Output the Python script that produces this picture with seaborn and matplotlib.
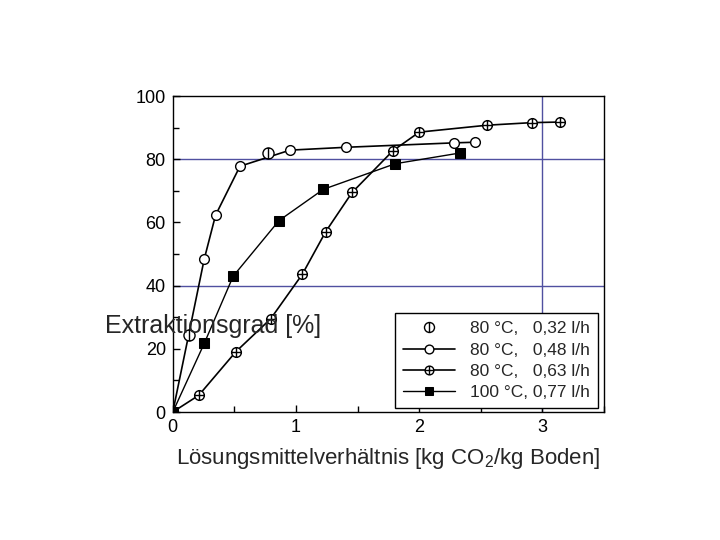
import numpy as np
import pandas as pd
import matplotlib
matplotlib.use("Agg")
import matplotlib.pyplot as plt
from matplotlib.path import Path
import seaborn as sns

# data
x_032 = [0.13, 0.77]
y_032 = [24.5, 82.0]

x_048 = [0.0, 0.255, 0.347, 0.545, 0.951, 1.404, 2.279, 2.45]
y_048 = [0.0, 48.4, 62.3, 77.8, 82.9, 83.8, 85.2, 85.4]

x_063 = [0.0, 0.211, 0.512, 0.794, 1.051, 1.241, 1.455, 1.786, 2.0, 2.553, 2.911, 3.146]
y_063 = [0.0, 5.3, 19.1, 29.5, 43.6, 57.1, 69.5, 82.7, 88.6, 90.8, 91.6, 91.8]

x_077 = [0.0, 0.255, 0.49, 0.862, 1.222, 1.805, 2.331]
y_077 = [0.0, 21.7, 43.0, 60.6, 70.5, 78.6, 82.0]

labels = ["80 °C,   0,32 l/h", "80 °C,   0,48 l/h", "80 °C,   0,63 l/h", "100 °C, 0,77 l/h"]

sns.set_theme(style="ticks")
plt.rcParams["font.family"] = ["Liberation Sans", "DejaVu Sans"]
plt.rcParams["mathtext.fontset"] = "custom"
plt.rcParams["mathtext.rm"] = "Liberation Sans"

# markers: circle with vertical bar, circle with cross
circ = Path.unit_circle()
vbar = Path([(0, -1), (0, 1)], [Path.MOVETO, Path.LINETO])
hbar = Path([(-1, 0), (1, 0)], [Path.MOVETO, Path.LINETO])
m_bar = Path.make_compound_path(circ, vbar)
m_cross = Path.make_compound_path(circ, vbar, hbar)

fig = plt.figure(figsize=(7.2, 5.4), dpi=100)
ax = fig.add_axes([0.240, 0.237, 0.599, 0.585])

for v in [40, 80]:
    ax.axhline(v, color="#5050a0", lw=1.0, zorder=0)
ax.axvline(3, color="#5050a0", lw=1.0, zorder=0)

df032 = pd.DataFrame({"x": x_032, "y": y_032})
df048 = pd.DataFrame({"x": x_048, "y": y_048})
df063 = pd.DataFrame({"x": x_063, "y": y_063})
df077 = pd.DataFrame({"x": x_077, "y": y_077})

sns.lineplot(data=df032, x="x", y="y", ax=ax, sort=False, estimator=None,
             color="black", linestyle="none", marker=m_bar, markersize=8,
             markerfacecolor="white", markeredgecolor="black", markeredgewidth=1.0,
             label=labels[0], zorder=5)
sns.lineplot(data=df048, x="x", y="y", ax=ax, sort=False, estimator=None,
             color="black", lw=1.2, marker="o", markersize=7,
             markerfacecolor="white", markeredgecolor="black", markeredgewidth=1.0,
             label=labels[1], zorder=4)
sns.lineplot(data=df063, x="x", y="y", ax=ax, sort=False, estimator=None,
             color="black", lw=1.2, marker=m_cross, markersize=7,
             markerfacecolor="white", markeredgecolor="black", markeredgewidth=1.0,
             label=labels[2], zorder=4)
sns.lineplot(data=df077, x="x", y="y", ax=ax, sort=False, estimator=None,
             color="black", lw=1.0, marker="s", markersize=6.5,
             markerfacecolor="black", markeredgecolor="black",
             label=labels[3], zorder=4)

ax.set_xlim(0, 3.5)
ax.set_ylim(0, 100)
ax.set_xticks([0, 1, 2, 3])
ax.set_xticks(np.arange(0, 3.51, 0.5), minor=True)
ax.set_yticks([0, 20, 40, 60, 80, 100])
ax.set_yticks(np.arange(0, 101, 10), minor=True)
ax.tick_params(which="both", direction="in", labelsize=13, colors="black")
ax.tick_params(which="major", length=5, width=1, pad=5)
ax.tick_params(which="minor", length=4, width=1)
for s in ax.spines.values():
    s.set_visible(True)
    s.set_color("black")
    s.set_linewidth(1.0)

ax.set_xlabel("Lösungsmittelverhältnis [kg CO$_\\mathregular{2}$/kg Boden]", fontsize=16, labelpad=7)
ax.set_ylabel("")

leg = ax.legend(loc="lower right", bbox_to_anchor=(0.986, 0.013), borderaxespad=0,
                fontsize=12.5, frameon=True, fancybox=False, edgecolor="black",
                handlelength=3.0, handletextpad=0.9, labelspacing=0.35, borderpad=0.45,
                markerscale=0.9)
leg.get_frame().set_linewidth(1.0)
leg.get_frame().set_alpha(1)

# y label, drawn horizontally as in the source (kept just above the "20" tick label)
fig.text(0.146, 0.397, "Extraktionsgrad [%]", fontsize=18, va="center", ha="left")

fig.savefig("out.png", dpi=100)
